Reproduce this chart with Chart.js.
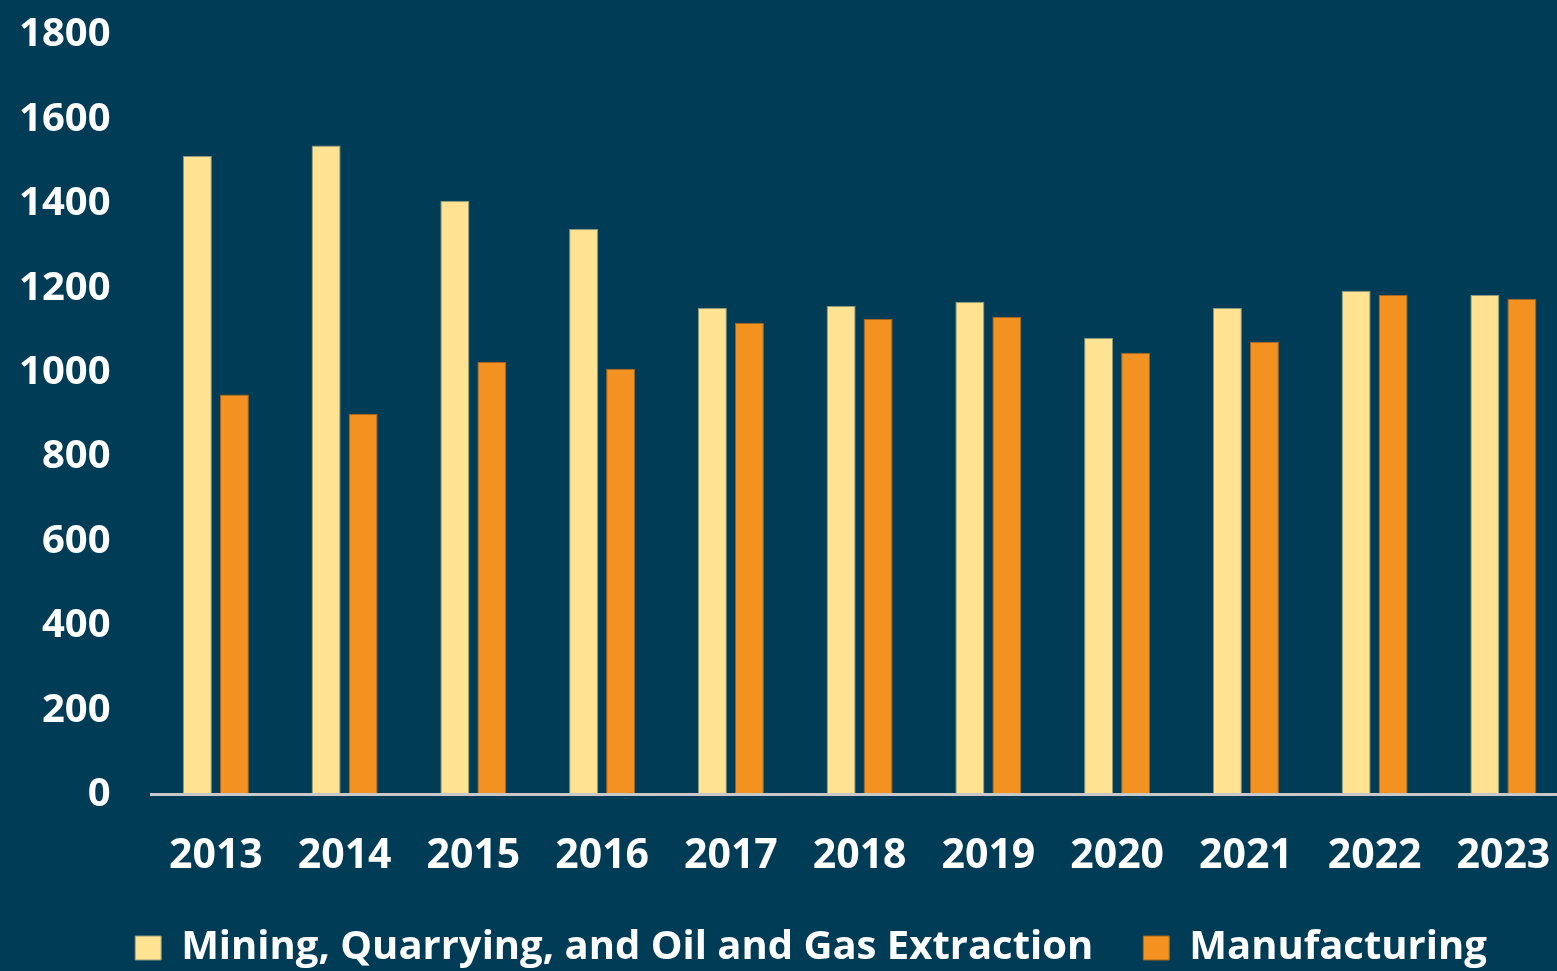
<!DOCTYPE html>
<html>
<head>
<meta charset="utf-8">
<script src="https://cdn.jsdelivr.net/npm/chart.js@4.4.1/dist/chart.umd.min.js"></script>
<style>
  html, body { margin: 0; padding: 0; background: #003c56; overflow: hidden; width: 1557px; height: 971px; }
  #wrap { position: absolute; left: 0; top: 0; }
</style>
</head>
<body>
<div id="wrap"><canvas id="c" width="1622" height="978"></canvas></div>
<script>
const years = ['2013','2014','2015','2016','2017','2018','2019','2020','2021','2022','2023'];
const mining = [1513, 1538, 1407, 1340, 1153, 1158, 1168, 1082, 1153, 1194, 1184];
const manufacturing = [948, 902, 1025, 1009, 1118, 1127, 1132, 1047, 1073, 1184, 1175];
const seriesNames = ['Mining, Quarrying, and Oil and Gas Extraction', 'Manufacturing'];
const yTicks = { min: 0, max: 1800, step: 200 };

const bgPlugin = {
  id: 'bg',
  beforeDraw(chart) {
    const ctx = chart.ctx;
    ctx.save();
    ctx.fillStyle = '#003c56';
    ctx.fillRect(0, 0, chart.width, chart.height);
    ctx.restore();
  }
};

const FONT = '"Open Sans", "Noto Sans", sans-serif';

new Chart(document.getElementById('c'), {
  type: 'bar',
  data: {
    labels: years,
    datasets: [
      {
        label: seriesNames[0],
        data: mining,
        backgroundColor: '#ffe393',
        borderColor: '#8e9a80',
        borderWidth: 1,
        categoryPercentage: 0.575,
        barPercentage: 0.784
      },
      {
        label: seriesNames[1],
        data: manufacturing,
        backgroundColor: '#f39221',
        borderColor: '#a8651f',
        borderWidth: 1,
        categoryPercentage: 0.575,
        barPercentage: 0.784
      }
    ]
  },
  options: {
    responsive: false,
    devicePixelRatio: 1,
    animation: false,
    layout: { padding: { left: 0, right: 0, top: 35, bottom: 0 } },
    plugins: {
      legend: {
        position: 'bottom',
        labels: {
          color: '#ffffff',
          font: { family: FONT, size: 40, weight: 'bold' },
          boxWidth: 26,
          boxHeight: 24,
          padding: 50
        }
      },
      tooltip: { enabled: false }
    },
    scales: {
      x: {
        grid: { display: false, drawTicks: false },
        border: { display: true, color: '#c8c8c8', width: 3, z: 1 },
        ticks: {
          color: '#ffffff',
          font: { family: FONT, size: 41, weight: 'bold' },
          padding: 37,
          maxRotation: 0,
          autoSkip: false
        },
        afterFit(s) { s.height = 83.5; }
      },
      y: {
        min: yTicks.min,
        max: yTicks.max,
        grid: { display: false, drawTicks: false },
        border: { display: false },
        ticks: {
          stepSize: yTicks.step,
          color: '#ffffff',
          font: { family: FONT, size: 40, weight: 'bold' },
          padding: 41,
          callback: (v) => String(v)
        },
        afterFit(s) { s.width = 151.5; s.paddingTop = 24; s.paddingBottom = 24; }
      },
      y2: {
        position: 'right',
        display: true,
        grid: { display: false, drawTicks: false },
        border: { display: false },
        ticks: { display: false },
        afterFit(s) { s.width = 54.25; }
      }
    }
  },
  plugins: [bgPlugin]
});
</script>
</body>
</html>
